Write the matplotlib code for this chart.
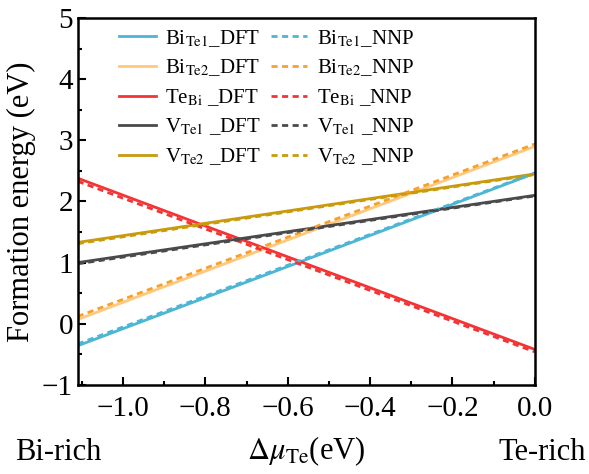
import numpy as np
import matplotlib
matplotlib.use("Agg")
import matplotlib.pyplot as plt

plt.rcParams['font.family'] = 'serif'
plt.rcParams['font.serif'] = ['Liberation Serif']
plt.rcParams['mathtext.fontset'] = 'stix'

# chemical potential range (end points, lines are straight)
mu = [-1.11, 0.0]

defects = [r"Bi$_{\rm Te1}$", r"Bi$_{\rm Te2}$", r"Te$_{\rm Bi}$ ", r"V$_{\rm Te1}$ ", r"V$_{\rm Te2}$ "]
E_dft = [[-0.36, 2.46], [0.07, 2.90], [2.38, -0.42], [1.00, 2.10], [1.33, 2.45]]
E_nnp = [[-0.33, 2.47], [0.12, 2.94], [2.33, -0.46], [0.98, 2.09], [1.31, 2.44]]

c_dft = ["#4db6d4", "#ffc97d", "#f43434", "#4a4a4a", "#c89a0c"]
c_nnp = ["#4db6d4", "#f7a12c", "#f43434", "#4a4a4a", "#c89a0c"]

fig = plt.figure(figsize=(5.89, 4.74), dpi=100)
ax = fig.add_axes([0.132, 0.188, 0.776, 0.774])

h_dft, h_nnp = [], []
for i in range(len(defects)):
    l1, = ax.plot(mu, E_dft[i], c=c_dft[i], lw=2.0, label=defects[i] + "_DFT")
    h_dft.append(l1)
for i in range(len(defects)):
    l2, = ax.plot(mu, E_nnp[i], c=c_nnp[i], lw=2.0, ls=(0, (2.2, 1.6)), label=defects[i] + "_NNP")
    h_nnp.append(l2)

ax.set_xlim(-1.11, 0.0)
ax.set_ylim(-1, 5)
ax.set_xticks([-1.0, -0.8, -0.6, -0.4, -0.2, 0.0])
ax.set_xticks(np.arange(-1.1, 0.0, 0.1), minor=True)
ax.set_yticks(range(-1, 6))
ax.set_yticks(np.arange(-0.5, 5, 1.0), minor=True)
ax.tick_params(which='both', direction='in', top=False, right=False, labelsize=21, width=1.5)
ax.tick_params(which='major', length=6)
ax.tick_params(which='minor', length=3)
ax.tick_params(axis='x', pad=8)
for s in ax.spines.values():
    s.set_linewidth(1.8)

ax.set_ylabel("Formation energy (eV)", fontsize=22, labelpad=4)
ax.set_xlabel(r"$\Delta\mu_{\rm Te}$(eV)", fontsize=22, labelpad=9)
fig.text(0.025, 0.03, "Bi-rich", fontsize=22, ha='left', va='baseline')
fig.text(0.995, 0.03, "Te-rich", fontsize=22, ha='right', va='baseline')

ax.legend(handles=h_dft + h_nnp, ncol=2, frameon=False, fontsize=15, loc='upper left',
          bbox_to_anchor=(0.05, 1.024), handlelength=1.75, handletextpad=0.45,
          columnspacing=0.47, labelspacing=0.42)

plt.savefig("out.png", dpi=100)
